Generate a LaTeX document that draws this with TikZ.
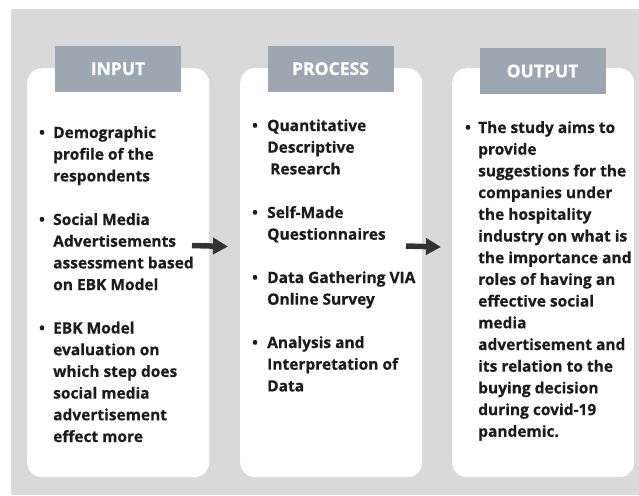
\documentclass[tikz,border=0pt]{standalone}
\usepackage{fontspec}
\setmainfont{Open Sans}[BoldFeatures={FakeBold=0.5}]
\usetikzlibrary{arrows.meta}
\definecolor{panelgray}{HTML}{D9D9D9}
\definecolor{headslate}{HTML}{9CA7B2}
\definecolor{inkdark}{HTML}{1C1C1C}
\definecolor{arrowdark}{HTML}{333333}
% one node per line of a bullet list: name, x, first baseline, lines
\newcommand\bodylines[4]{%
  \foreach \ln [count=\k from 0] in {#4} {%
    \node[body] (#1-\k) at (#2, #3 + 21.7*\k) {\ln};}}
\begin{document}
\begin{tikzpicture}[x=1pt,y=-1pt,
  card/.style={fill=white, rounded corners=15pt, minimum width=182pt,
    minimum height=409pt, inner sep=0pt, anchor=north west},
  header/.style={fill=headslate, text=white,
    font=\fontsize{17.5}{20}\selectfont\bfseries,
    minimum width=126pt, minimum height=46pt, inner sep=0pt},
  body/.style={text=inkdark, font=\fontsize{15.5}{17}\selectfont\bfseries,
    inner sep=0pt, anchor=base west},
  dot/.style={body, anchor=base},
  flow/.style={draw=arrowdark, line width=5.5pt,
    -{Triangle[length=15pt,width=16pt]}}
]
\useasboundingbox (0,0) rectangle (639,495);
\fill[panelgray] (11,9) rectangle (639,495);

% the three cards
\node[card] (incard)   at (27,68)  {};
\node[card] (proccard) at (240,68) {};
\node[card] (outcard)  at (452,68) {};

% card headers
\node[header] (inhead)   at (118,68.7)   {INPUT};
\node[header] (prochead) at (330.5,68.7) {PROCESS};
\node[header] (outhead)  at (542.5,71)   {OUTPUT};

% INPUT list
\node[dot] (in-b1) at (42,138)   {•};
\node[dot] (in-b2) at (42,225)   {•};
\node[dot] (in-b3) at (42,333.5) {•};
\bodylines{inA}{53}{138}{Demographic,profile of the,respondents}
\bodylines{inB}{53}{225}{Social Media,Advertisements,assessment based,on EBK Model}
\bodylines{inC}{53}{333.5}{EBK Model,evaluation on,which step does,social media,advertisement,effect more}

% PROCESS list
\node[dot] (pr-b1) at (255,131) {•};
\node[dot] (pr-b2) at (255,218) {•};
\node[dot] (pr-b3) at (255,283) {•};
\node[dot] (pr-b4) at (255,348) {•};
\bodylines{prA}{267}{131}{Quantitative,Descriptive,\hspace{3pt}Research}
\bodylines{prB}{267}{218}{Self-Made,Questionnaires}
\bodylines{prC}{267}{283}{Data Gathering VIA,Online Survey}
\bodylines{prD}{267}{348}{Analysis and,Interpretation of,Data}

% OUTPUT list
\node[dot] (out-b1) at (468,133) {•};
\bodylines{outA}{478}{133}{The study aims to,provide,suggestions for the,companies under,the hospitality,industry on what is,the importance and,roles of having an,effective social,media,advertisement and,its relation to the,buying decision,during covid-19,pandemic.}

% flow arrows between the cards
\coordinate (f1s) at (192,245.5);
\coordinate (f1e) at (228,246.5);
\coordinate (f2s) at (406,246);
\coordinate (f2e) at (441,247);
\draw[flow] (f1s) -- (f1e);
\draw[flow] (f2s) -- (f2e);
\end{tikzpicture}
\end{document}
